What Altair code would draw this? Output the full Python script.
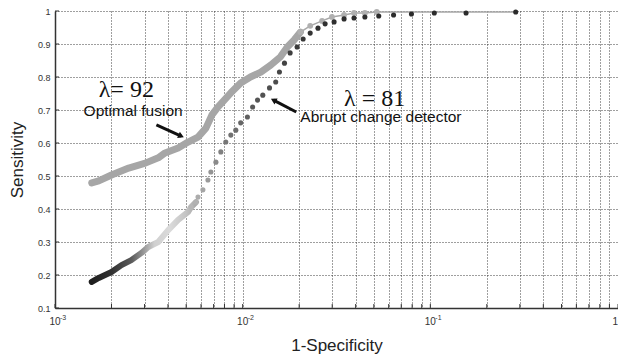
import altair as alt
import pandas as pd

# ---------------- data ----------------
# Optimal fusion (light grey, dense band then sparse markers)
fus_x = [0.00157, 0.00171, 0.00200, 0.00247, 0.00303, 0.00355, 0.00386, 0.00453,
         0.00512, 0.00578, 0.00637, 0.00686, 0.00738, 0.00865, 0.00976, 0.0110,
         0.0125, 0.0141, 0.0159, 0.0173, 0.0188, 0.0203, 0.0229, 0.0265, 0.0299,
         0.0347, 0.0392, 0.0448, 0.0518, 0.285]
fus_y = [0.479, 0.485, 0.503, 0.524, 0.539, 0.555, 0.570, 0.585,
         0.603, 0.618, 0.645, 0.685, 0.709, 0.752, 0.782, 0.800,
         0.815, 0.836, 0.861, 0.891, 0.912, 0.936, 0.955, 0.970, 0.982,
         0.988, 0.994, 0.994, 0.997, 0.997]

# Abrupt change detector, dense low part (drawn as a shaded band)
abr_band_x = [0.00157, 0.00171, 0.00200, 0.00226, 0.00255, 0.00289, 0.00314,
              0.00355, 0.00401, 0.00453, 0.00512, 0.00531, 0.00564]
abr_band_y = [0.179, 0.191, 0.209, 0.230, 0.245, 0.267, 0.285,
              0.300, 0.336, 0.367, 0.391, 0.406, 0.421]

# Abrupt change detector, separate dots
abr_x = [0.00531, 0.00564, 0.00578, 0.00614, 0.00653, 0.00677, 0.00720, 0.00765,
         0.00813, 0.00865, 0.00919, 0.00976, 0.0106, 0.0113, 0.0120, 0.0128,
         0.0139, 0.0150, 0.0157, 0.0167, 0.0179, 0.0195, 0.0210, 0.0229, 0.0252,
         0.0275, 0.0307, 0.0347, 0.0392, 0.0448, 0.0531, 0.0637, 0.0793, 0.105,
         0.155, 0.285]
abr_y = [0.406, 0.421, 0.436, 0.458, 0.488, 0.512, 0.542, 0.573,
         0.603, 0.624, 0.639, 0.661, 0.679, 0.709, 0.730, 0.745,
         0.767, 0.785, 0.815, 0.842, 0.873, 0.891, 0.915, 0.933, 0.948,
         0.961, 0.967, 0.976, 0.979, 0.982, 0.985, 0.988, 0.991, 0.994,
         0.994, 0.997]

# axes
x_ticks = [0.001, 0.002, 0.003, 0.004, 0.005, 0.006, 0.007, 0.008, 0.009,
           0.01, 0.02, 0.03, 0.04, 0.05, 0.06, 0.07, 0.08, 0.09,
           0.1, 0.2, 0.3, 0.4, 0.5, 0.6, 0.7, 0.8, 0.9, 1.0]
y_ticks = [0.1, 0.2, 0.3, 0.4, 0.5, 0.6, 0.7, 0.8, 0.9, 1.0]
x_label_vals = [0.001, 0.01, 0.1, 1.0]
x_label_base = ["10", "10", "10", "10"]
x_label_exp = ["-3", "-2", "-1", "0"]

# annotations (data coordinates)
lam_x = [0.00171, 0.0347]
lam_y = [0.739, 0.712]
lam_text = ["λ= 92", "λ = 81"]
lab_x = [0.00142, 0.0203]
lab_y = [0.682, 0.664]
lab_text = ["Optimal fusion", "Abrupt change detector"]
arrow_x = [0.00347, 0.0193]
arrow_y = [0.655, 0.694]
arrow_x2 = [0.00470, 0.0146]
arrow_y2 = [0.621, 0.730]

# ---------------- tables ----------------
fus = pd.DataFrame({"x": fus_x, "y": fus_y})
band = pd.DataFrame({"x": abr_band_x, "y": abr_band_y})
abr = pd.DataFrame({"x": abr_x, "y": abr_y})
xt = pd.DataFrame({"x": x_ticks})
yt = pd.DataFrame({"y": y_ticks})
xl = pd.DataFrame({"x": x_label_vals, "base": x_label_base, "exp": x_label_exp})
lam = pd.DataFrame({"x": lam_x, "y": lam_y, "t": lam_text})
lab = pd.DataFrame({"x": lab_x, "y": lab_y, "t": lab_text})
arr = pd.DataFrame({"x": arrow_x, "y": arrow_y, "x2": arrow_x2, "y2": arrow_y2})

FONT = "Liberation Sans"
W, H = 563, 297
xscale = alt.Scale(type="log", domain=[0.001, 1], nice=False)
yscale = alt.Scale(domain=[0.1, 1], nice=False, zero=False)

GRID = dict(grid=True, gridDash=[1, 2], gridColor="#2a2a2a", gridOpacity=0.9, gridWidth=1)
xaxis = alt.Axis(values=x_ticks, labels=False, ticks=False, **GRID,
                 domainColor="#333", domainWidth=1.5,
                 title="1-Specificity", titleFont=FONT, titleFontSize=17,
                 titleFontWeight="normal", titleColor="#222",
                 titleY=42, titleBaseline="alphabetic")
yaxis = alt.Axis(values=y_ticks,
                 labelExpr="datum.value == 1 ? '1' : format(datum.value, '.1f')",
                 ticks=False, labelPadding=5, labelFontSize=9, labelColor="#333",
                 labelFont=FONT, **GRID, domainColor="#333", domainWidth=1.5,
                 title="Sensitivity", titleFont=FONT, titleFontSize=17,
                 titleFontWeight="normal", titleColor="#222",
                 titleX=-33, titleBaseline="alphabetic")


def X(field="x"):
    return alt.X(f"{field}:Q", scale=xscale, axis=xaxis)


def Y(field="y"):
    return alt.Y(f"{field}:Q", scale=yscale, axis=yaxis)


xticks = alt.Chart(xt).mark_rule(color="#333", strokeWidth=1).encode(
    x=X(), y=alt.value(H), y2=alt.value(H - 4))
yticks = alt.Chart(yt).mark_rule(color="#333", strokeWidth=1).encode(
    y=Y(), x=alt.value(0), x2=alt.value(4))

fus_thin = alt.Chart(fus).mark_line(color="#a8a8a8", strokeWidth=1.5).encode(x=X(), y=Y())
fus_band = alt.Chart(fus).transform_filter("datum.x <= 0.021").mark_line(
    color="#a6a6a6", strokeWidth=7, strokeCap="round", strokeJoin="round").encode(x=X(), y=Y())
fus_marks = alt.Chart(fus).transform_filter("datum.x >= 0.02 && datum.x <= 0.06").mark_circle(
    color="#b0b0b0", size=34, opacity=1).encode(x=X(), y=Y())

band_grad = {"gradient": "linear", "x1": 0, "y1": 0, "x2": 1, "y2": 0,
             "stops": [{"offset": 0, "color": "#1e1e1e"},
                       {"offset": 0.2, "color": "#333333"},
                       {"offset": 0.38, "color": "#5a5a5a"},
                       {"offset": 0.5, "color": "#999999"},
                       {"offset": 0.6, "color": "#d0d0d0"},
                       {"offset": 0.75, "color": "#dadada"},
                       {"offset": 0.9, "color": "#c4c4c4"},
                       {"offset": 1, "color": "#aaaaaa"}]}
abr_band = alt.Chart(band).mark_line(stroke=band_grad, strokeWidth=6, strokeCap="round",
                                     strokeJoin="round").encode(x=X(), y=Y())
abr_dots = alt.Chart(abr).mark_circle(size=26, opacity=1).encode(
    x=X(), y=Y(),
    color=alt.Color("y:Q", scale=alt.Scale(domain=[0.4, 0.7, 1.0],
                                           range=["#b8b8b8", "#5a5a5a", "#2a2a2a"]),
                    legend=None))

lbl_base = alt.Chart(xl).mark_text(font=FONT, fontSize=10, color="#333", align="center",
                                   baseline="alphabetic").encode(
    x=X(), y=alt.value(H + 17), text="base:N")
lbl_exp = alt.Chart(xl).mark_text(font=FONT, fontSize=7, color="#333", align="left",
                                  baseline="alphabetic", dx=5).encode(
    x=X(), y=alt.value(H + 12), text="exp:N")

lam_txt = alt.Chart(lam).mark_text(font="Liberation Serif", fontSize=24, color="#111",
                                   align="left", baseline="alphabetic").encode(
    x=X(), y=Y(), text="t:N")
lab_txt = alt.Chart(lab).mark_text(font=FONT, fontSize=15.5, color="#111",
                                   align="left", baseline="alphabetic").encode(
    x=X(), y=Y(), text="t:N")
arr_shaft = alt.Chart(arr).mark_rule(color="#111", strokeWidth=3).encode(
    x=X(), y=Y(), x2="x2:Q", y2="y2:Q")
head1 = alt.Chart(arr.iloc[[0]]).mark_point(shape="triangle-right", filled=True, color="#111",
                                            size=45, angle=24, opacity=1).encode(
    x=X("x2"), y=Y("y2"))
head2 = alt.Chart(arr.iloc[[1]]).mark_point(shape="triangle-left", filled=True, color="#111",
                                            size=45, angle=28, opacity=1).encode(
    x=X("x2"), y=Y("y2"))

chart = alt.layer(xticks, yticks, fus_thin, fus_band, fus_marks, abr_band, abr_dots,
                  lbl_base, lbl_exp, lam_txt, lab_txt, arr_shaft, head1, head2).properties(
    width=W, height=H,
    autosize=alt.AutoSizeParams(type="none"),
    padding={"left": 47, "top": 3, "right": 0, "bottom": 46},
    background="white",
).configure_view(strokeWidth=0)

chart.save("out.html", embed_options={"renderer": "svg", "actions": False})
